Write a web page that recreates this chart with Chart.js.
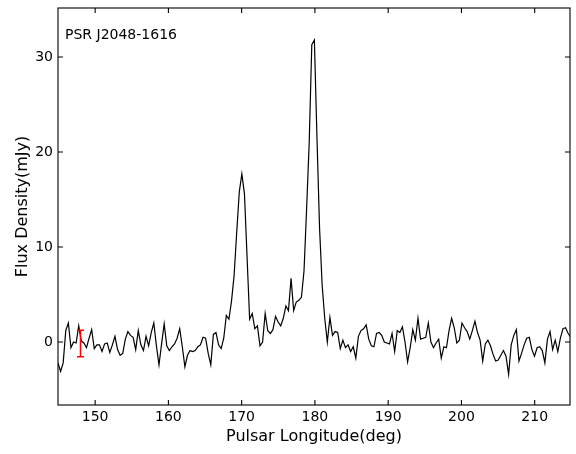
<!DOCTYPE html>
<html><head><meta charset="utf-8">
<script src="https://cdn.jsdelivr.net/npm/chart.js@4.4.0/dist/chart.umd.min.js"></script>
<style>html,body{margin:0;padding:0;background:#fff;} #wrap{width:576px;height:454px;}</style>
</head><body><div id="wrap"><canvas id="c" width="576" height="454"></canvas></div>
<script>
// ---- data ----
const lonStart = 144.93;     // longitude of first bin (deg)
const lonStep = 0.3535;      // bin width (deg)
const flux = [
 -2.2,-3.1,-2.2,1.2,2.0,-0.6,0.0,-0.1,1.7,0.1,
 -0.1,-0.6,0.4,1.3,-0.7,-0.3,-0.3,-1.0,-0.2,-0.1,
 -1.1,-0.3,0.6,-0.8,-1.4,-1.2,0.3,1.1,0.7,0.5,
 -0.8,1.2,-0.3,-0.9,0.6,-0.4,1.0,2.0,-0.4,-2.4,
 -0.2,1.9,-0.4,-0.9,-0.5,-0.2,0.4,1.4,-0.5,-2.6,
 -1.4,-0.9,-1.0,-0.9,-0.5,-0.3,0.5,0.4,-1.2,-2.4,
 0.8,1.0,-0.3,-0.7,0.4,2.8,2.4,4.3,7.0,11.5,
 15.8,17.7,15.6,9.0,2.4,3.0,1.4,1.7,-0.4,0.0,
 3.0,1.2,0.9,1.3,2.7,2.1,1.7,2.5,3.8,3.3,
 6.7,3.3,4.2,4.4,4.7,7.5,14.0,21.0,31.3,31.8,
 21.5,12.0,6.0,2.5,0.0,2.6,0.7,1.1,1.0,-0.7,
 0.2,-0.6,-0.3,-1.0,-0.5,-1.7,0.6,1.2,1.4,1.8,
 0.3,-0.4,-0.5,0.9,1.0,0.7,0.0,-0.1,-0.2,0.9,
 -1.0,1.2,1.0,1.6,0.0,-2.1,-0.6,1.3,0.2,2.5,
 0.3,0.4,0.5,2.0,0.0,-0.6,-0.1,0.3,-1.7,-0.5,
 -0.6,1.2,2.5,1.5,-0.1,0.2,2.0,1.5,1.1,0.3,
 1.2,2.2,1.0,0.2,-2.0,-0.2,0.2,-0.4,-1.3,-2.0,
 -1.9,-1.4,-0.9,-1.5,-3.4,-0.3,0.7,1.3,-2.0,-1.2,
 -0.3,0.4,0.5,-0.8,-1.5,-0.6,-0.5,-0.9,-2.2,0.3,
 1.1,-0.8,0.2,-1.0,0.4,1.4,1.5,0.9,0.5
];
const xTicks = [150,160,170,180,190,200,210];
const yTicks = [0,10,20,30];
const errLon = [148.0];
const errCenter = [-0.15];
const errHalf = [1.4];
const pulsarName = 'PSR J2048-1616';
const xTitle = 'Pulsar Longitude(deg)';
const yTitle = 'Flux Density(mJy)';

const points = flux.map((v, i) => ({x: lonStart + i * lonStep, y: v}));
const FONT = "'DejaVu Sans', sans-serif";

const framePlugin = {
  id: 'frame',
  afterDatasetsDraw(chart) {
    const {ctx, chartArea: a, scales: {x, y}} = chart;
    ctx.save();
    // error bar
    ctx.strokeStyle = '#ff0000';
    ctx.lineWidth = 1.5;
    errLon.forEach((lon, k) => {
      const px = x.getPixelForValue(lon);
      const top = y.getPixelForValue(errCenter[k] + errHalf[k]);
      const bot = y.getPixelForValue(errCenter[k] - errHalf[k]);
      ctx.beginPath();
      ctx.moveTo(px, top); ctx.lineTo(px, bot);
      ctx.moveTo(px - 3.5, top); ctx.lineTo(px + 3.5, top);
      ctx.moveTo(px - 3.5, bot); ctx.lineTo(px + 3.5, bot);
      ctx.stroke();
    });
    // frame
    ctx.strokeStyle = '#000';
    ctx.lineWidth = 1.1;
    ctx.strokeRect(a.left, a.top, a.right - a.left, a.bottom - a.top);
    // inward ticks on all sides
    const L = 5;
    ctx.beginPath();
    xTicks.forEach(v => {
      const px = x.getPixelForValue(v);
      ctx.moveTo(px, a.bottom); ctx.lineTo(px, a.bottom - L);
      ctx.moveTo(px, a.top); ctx.lineTo(px, a.top + L);
    });
    yTicks.forEach(v => {
      const py = y.getPixelForValue(v);
      ctx.moveTo(a.left, py); ctx.lineTo(a.left + L, py);
      ctx.moveTo(a.right, py); ctx.lineTo(a.right - L, py);
    });
    ctx.stroke();
    // label
    ctx.fillStyle = '#000';
    ctx.font = "14px " + FONT;
    ctx.textAlign = 'left';
    ctx.textBaseline = 'middle';
    ctx.fillText(pulsarName, a.left + 7, 35);
    ctx.restore();
  }
};

new Chart(document.getElementById('c'), {
  type: 'line',
  data: {
    datasets: [{
      data: points,
      borderColor: '#000',
      borderWidth: 1.2,
      pointRadius: 0,
      tension: 0,
      fill: false
    }]
  },
  options: {
    responsive: false,
    animation: false,
    devicePixelRatio: 1,
    layout: {padding: {left: 0, right: 6, top: 8, bottom: 0}},
    plugins: {legend: {display: false}, tooltip: {enabled: false}},
    scales: {
      x: {
        type: 'linear',
        min: 144.93, max: 214.82,
        afterBuildTicks: s => { s.ticks = xTicks.map(v => ({value: v})); },
        afterFit: s => { s.height = 49; s.paddingLeft = 0; s.paddingRight = 0; },
        grid: {display: false, drawTicks: false},
        border: {display: false},
        ticks: {color: '#000', font: {family: FONT, size: 14}, padding: 4, maxRotation: 0, autoSkip: false},
        title: {display: true, text: xTitle, color: '#000', font: {family: FONT, size: 16}, padding: {top: 0, bottom: 8}}
      },
      y: {
        type: 'linear',
        min: -6.63, max: 35.16,
        afterBuildTicks: s => { s.ticks = yTicks.map(v => ({value: v})); },
        afterFit: s => { s.width = 58; s.paddingTop = 0; s.paddingBottom = 0; },
        grid: {display: false, drawTicks: false},
        border: {display: false},
        ticks: {color: '#000', font: {family: FONT, size: 14}, padding: 5, autoSkip: false},
        title: {display: true, text: yTitle, color: '#000', font: {family: FONT, size: 16}, padding: {top: 13, bottom: 0}}
      }
    }
  },
  plugins: [framePlugin]
});
</script>
</body></html>
